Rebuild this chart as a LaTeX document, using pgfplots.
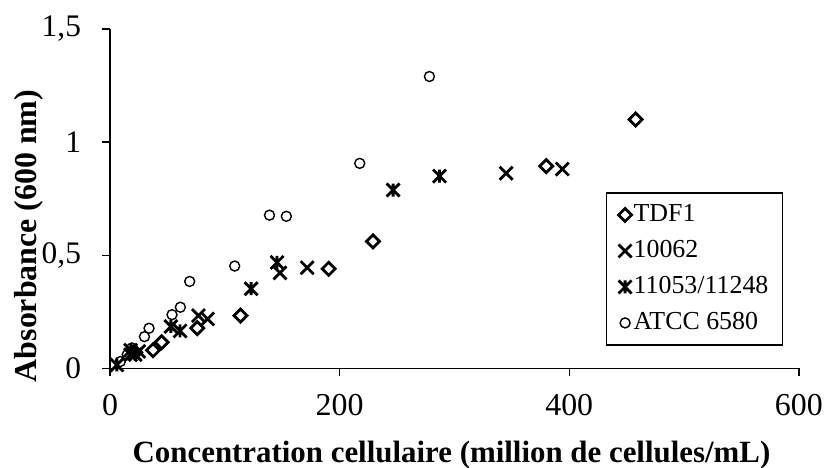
\documentclass[border=0pt]{standalone}
\usepackage{fontspec}
\setmainfont{Liberation Serif}
\usepackage{pgfplots}
\pgfplotsset{compat=1.18}
\pgfdeclareplotmark{mydiamond}{%
  \pgfpathmoveto{\pgfqpoint{0pt}{\pgfplotmarksize}}%
  \pgfpathlineto{\pgfqpoint{\pgfplotmarksize}{0pt}}%
  \pgfpathlineto{\pgfqpoint{0pt}{-\pgfplotmarksize}}%
  \pgfpathlineto{\pgfqpoint{-\pgfplotmarksize}{0pt}}%
  \pgfpathclose\pgfusepathqstroke}
\pgfdeclareplotmark{mycross}{%
  \pgfpathmoveto{\pgfqpoint{-\pgfplotmarksize}{-\pgfplotmarksize}}%
  \pgfpathlineto{\pgfqpoint{\pgfplotmarksize}{\pgfplotmarksize}}%
  \pgfpathmoveto{\pgfqpoint{-\pgfplotmarksize}{\pgfplotmarksize}}%
  \pgfpathlineto{\pgfqpoint{\pgfplotmarksize}{-\pgfplotmarksize}}%
  \pgfusepathqstroke}
\pgfdeclareplotmark{mystar}{%
  \pgfpathmoveto{\pgfqpoint{-\pgfplotmarksize}{-\pgfplotmarksize}}%
  \pgfpathlineto{\pgfqpoint{\pgfplotmarksize}{\pgfplotmarksize}}%
  \pgfpathmoveto{\pgfqpoint{-\pgfplotmarksize}{\pgfplotmarksize}}%
  \pgfpathlineto{\pgfqpoint{\pgfplotmarksize}{-\pgfplotmarksize}}%
  \pgfpathmoveto{\pgfqpoint{0pt}{-\pgfplotmarksize}}%
  \pgfpathlineto{\pgfqpoint{0pt}{\pgfplotmarksize}}%
  \pgfusepathqstroke}
\begin{document}
\begin{tikzpicture}
\begin{axis}[
  name=ax,
  scale only axis,
  width=688.9bp, height=339.3bp,
  xmin=0, xmax=600, ymin=0, ymax=1.5,
  xtick={0,200,400,600}, ytick={0,0.5,1,1.5},
  axis x line*=bottom, axis y line*=left,
  axis line style={-, line width=1.2bp},
  tick style={line width=1.2bp, black},
  tick align=outside, major tick length=8bp,
  /pgf/number format/use comma,
  /pgf/number format/assume math mode=true,
  xticklabel style={font=\fontsize{32}{36}\selectfont, anchor=north, yshift=-14bp},
  yticklabel style={font=\fontsize{31.5}{36}\selectfont, anchor=east, xshift=-17.5bp},
  xlabel={\bfseries Concentration cellulaire (million de cellules/mL)},
  ylabel={\bfseries Absorbance (600 nm)},
  every axis x label/.style={at={(axis description cs:0.4957,-0.279)}, anchor=base, font=\fontsize{31}{36}\selectfont},
  every axis y label/.style={at={(axis description cs:-0.107,0.39)}, anchor=base, rotate=90, font=\fontsize{32}{36}\selectfont},
  legend style={at={(axis description cs:0.720,0.5187)}, anchor=north west,
    draw=black, line width=1.2bp, font=\fontsize{26}{32}\selectfont,
    inner xsep=12bp, inner ysep=9bp, row sep=10bp, column sep=0bp,
    nodes={inner xsep=2bp, inner ysep=0bp, text height=20bp, text depth=6bp}},
  legend cell align=left,
  legend image code/.code={\draw[#1] plot coordinates {(0bp,0bp)};},
  clip=false,
]
\addplot[only marks, mark=mydiamond, mark size=6.5bp, line width=2.8bp, black] coordinates {
(22,0.07) (37.5,0.08) (45,0.115) (76,0.178) (113.6,0.233) (190.5,0.44)
(229,0.561) (380,0.894) (457.8,1.10)};
\addlegendentry{TDF1}
\addplot[only marks, mark=mycross, mark size=6.5bp, line width=2.8bp, black] coordinates {
(18,0.06) (25,0.075) (77,0.233) (85,0.218) (148,0.422) (171.7,0.445)
(345,0.862) (393.9,0.881)};
\addlegendentry{10062}
\addplot[only marks, mark=mystar, mark size=6.5bp, line width=2.8bp, black] coordinates {
(6,0.015) (18,0.08) (22,0.06) (53,0.185) (61,0.165) (122.9,0.352)
(145.5,0.468) (246.6,0.788) (287,0.85)};
\addlegendentry{11053/11248}
\addplot[only marks, mark=o, mark size=5bp, line width=1.4bp, black] coordinates {
(9,0.03) (15,0.06) (19,0.09) (30,0.14) (34,0.177) (54,0.237) (61.3,0.27)
(69.4,0.384) (108.6,0.452) (138.9,0.677) (153.6,0.672) (217.5,0.906) (278.2,1.29)};
\addlegendentry{ATCC 6580}
\end{axis}
\pgfresetboundingbox
\path ([xshift=-110bp,yshift=-99.7bp]ax.south west) rectangle ([xshift=27.1bp,yshift=29bp]ax.north east);
\end{tikzpicture}
\end{document}
